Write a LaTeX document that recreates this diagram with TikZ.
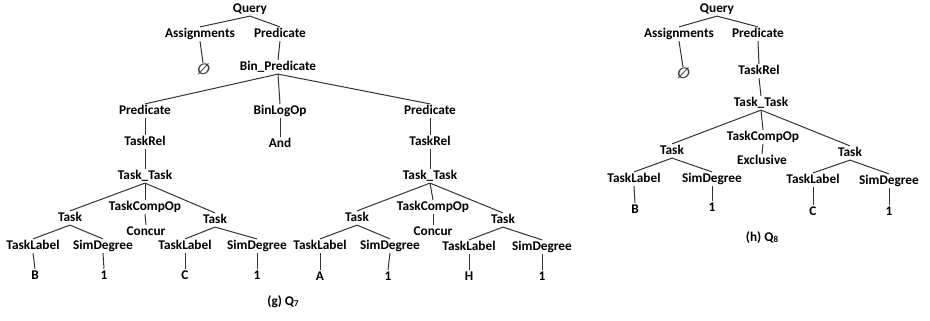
\documentclass[tikz,border=0pt]{standalone}
\usepackage{fontspec}
\setmainfont{Carlito}
\newfontfamily\esfont[FakeSlant=0.15]{DejaVu Sans}
\begin{document}
\begin{tikzpicture}[x=1pt,y=-1pt,
  lbl/.style={font=\fontsize{13.3}{15}\selectfont\bfseries, inner sep=1pt, text height=9pt, text depth=2.8pt},
  nullset/.style={font=\esfont\fontsize{15}{16}\selectfont\bfseries, inner sep=0.5pt, text=black!75},
  edge/.style={line width=1pt, draw=black!80}]
\useasboundingbox (0,0) rectangle (930,321);
% ---------- left tree (g) ----------
\node[lbl] (q) at (250,9) {Query};
\node[lbl] (as) at (200,34) {Assignments};
\node[lbl] (pr) at (280,34) {Predicate};
\node[nullset] (es) at (203,69) {∅};
\node[lbl] (bp) at (278,67) {Bin\_Predicate};
\node[lbl] (lp) at (145,111) {Predicate};
\node[lbl] (bl) at (280,111) {BinLogOp};
\node[lbl] (and) at (280,144) {And};
\node[lbl] (rp) at (430,111) {Predicate};
% left sub
\node[lbl] (ltr) at (145,142) {TaskRel};
\node[lbl] (ltt) at (145,176) {Task\_Task};
\node[lbl] (lco) at (145,207) {TaskCompOp};
\node[lbl] (lcc) at (146,232) {Concur};
\node[lbl] (lt1) at (70,218) {Task};
\node[lbl] (lt2) at (215,220) {Task};
\node[lbl] (ll1) at (33,246) {TaskLabel};
\node[lbl] (ls1) at (103,246) {SimDegree};
\node[lbl] (lv1) at (35,276) {B};
\node[lbl] (ld1) at (104,276) {1};
\node[lbl] (ll2) at (185,246) {TaskLabel};
\node[lbl] (ls2) at (257,246) {SimDegree};
\node[lbl] (lv2) at (185,276) {C};
\node[lbl] (ld2) at (257,276) {1};
% right sub
\node[lbl] (rtr) at (430,142) {TaskRel};
\node[lbl] (rtt) at (430,176) {Task\_Task};
\node[lbl] (rco) at (433,207) {TaskCompOp};
\node[lbl] (rcc) at (433,232) {Concur};
\node[lbl] (rt1) at (357,218) {Task};
\node[lbl] (rt2) at (503,220) {Task};
\node[lbl] (rl1) at (320,246) {TaskLabel};
\node[lbl] (rs1) at (390,246) {SimDegree};
\node[lbl] (rv1) at (320,277) {A};
\node[lbl] (rd1) at (388,277) {1};
\node[lbl] (rl2) at (469,247) {TaskLabel};
\node[lbl] (rs2) at (542,247) {SimDegree};
\node[lbl] (rv2) at (469,277) {H};
\node[lbl] (rd2) at (542,277) {1};
\node[lbl] (capg) at (283,302) {(g) Q\raisebox{-1pt}{\small 7}};
\foreach \a/\b in {q/as,q/pr,as/es,pr/bp,bp/lp,bp/bl,bp/rp,bl/and,
  lp/ltr,ltr/ltt,ltt/lco,ltt/lt1,ltt/lt2,lco/lcc,lt1/ll1,lt1/ls1,ll1/lv1,ls1/ld1,lt2/ll2,lt2/ls2,ll2/lv2,ls2/ld2,
  rp/rtr,rtr/rtt,rtt/rco,rtt/rt1,rtt/rt2,rco/rcc,rt1/rl1,rt1/rs1,rl1/rv1,rs1/rd1,rt2/rl2,rt2/rs2,rl2/rv2,rs2/rd2}
  \draw[edge] (\a.south) -- (\b.north);
% ---------- right tree (h) ----------
\node[lbl] (hq) at (717,9) {Query};
\node[lbl] (has) at (679,34) {Assignments};
\node[lbl] (hpr) at (758,34) {Predicate};
\node[nullset] (hes) at (683,73) {∅};
\node[lbl] (htr) at (759,71) {TaskRel};
\node[lbl] (htt) at (761,103) {Task\_Task};
\node[lbl] (hco) at (763,137) {TaskCompOp};
\node[lbl] (hex) at (762,161) {Exclusive};
\node[lbl] (ht1) at (672,151) {Task};
\node[lbl] (ht2) at (850,153) {Task};
\node[lbl] (hl1) at (634,179) {TaskLabel};
\node[lbl] (hs1) at (712,179) {SimDegree};
\node[lbl] (hv1) at (635,210) {B};
\node[lbl] (hd1) at (712,208) {1};
\node[lbl] (hl2) at (813,180) {TaskLabel};
\node[lbl] (hs2) at (889,181) {SimDegree};
\node[lbl] (hv2) at (813,212) {C};
\node[lbl] (hd2) at (889,212) {1};
\node[lbl] (caph) at (762,238) {(h) Q\raisebox{-1pt}{\small 8}};
\foreach \a/\b in {hq/has,hq/hpr,has/hes,hpr/htr,htr/htt,htt/hco,htt/ht1,htt/ht2,hco/hex,
  ht1/hl1,ht1/hs1,hl1/hv1,hs1/hd1,ht2/hl2,ht2/hs2,hl2/hv2,hs2/hd2}
  \draw[edge] (\a.south) -- (\b.north);
\end{tikzpicture}
\end{document}
